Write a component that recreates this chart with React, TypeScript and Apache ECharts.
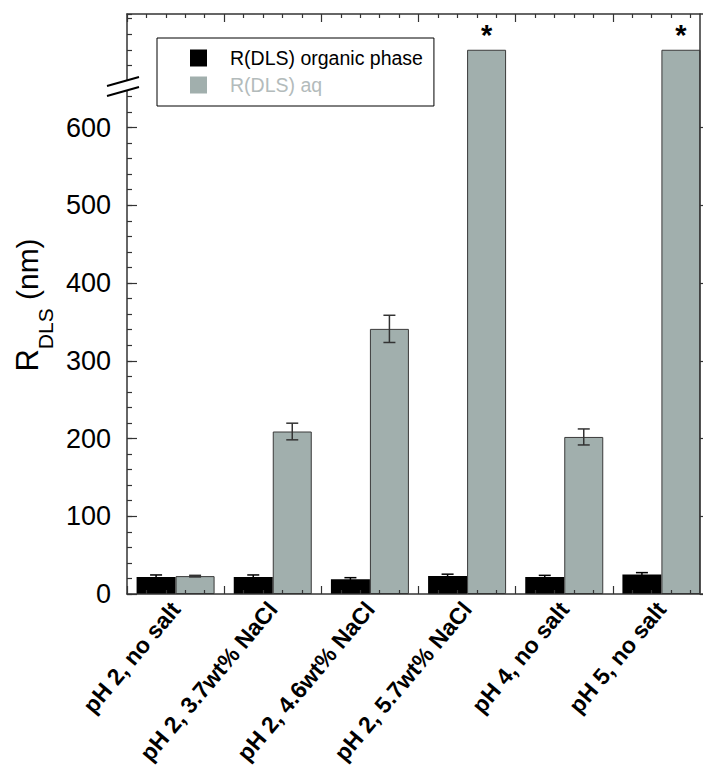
import React, { useEffect, useRef } from 'react';
import * as echarts from 'echarts';

const categories = [
  'pH 2, no salt',
  'pH 2, 3.7wt% NaCl',
  'pH 2, 4.6wt% NaCl',
  'pH 2, 5.7wt% NaCl',
  'pH 4, no salt',
  'pH 5, no salt',
];
const seriesNames = ['R(DLS) organic phase', 'R(DLS) aq'];
const organicValues = [22, 22, 19, 23, 22, 25];
const organicErrors = [2.5, 2.5, 2, 2.5, 2, 2.5];
const aqValues = [23, 209, 341, 700, 202, 700];
const aqErrors = [1, 10.7, 17.5, 0, 10.3, 0];
const offScale = [false, false, false, true, false, true];
const yTickLabels = [0, 100, 200, 300, 400, 500, 600];

const FONT = 'Liberation Sans, Arial, sans-serif';
const AXIS_COLOR = '#333';
const GREY = '#a1afad';
const BAR_W = 39;

export default function App() {
  const ref = useRef<HTMLDivElement>(null);
  useEffect(() => {
    if (!ref.current) return;
    const chart = echarts.init(ref.current, null, { renderer: 'svg' });

    const errSeries = (name: string, values: number[], errors: number[], off: number, color: string) => ({
      type: 'custom',
      name: name + ' err',
      xAxisIndex: 0,
      yAxisIndex: 0,
      z: 4,
      silent: true,
      data: values.map((v, i) => [i, v, errors[i]]),
      renderItem: (params: any, api: any) => {
        const x = api.value(0);
        const v = api.value(1);
        const e = api.value(2);
        if (!e) return { type: 'group', children: [] };
        const top = api.coord([x, v + e]);
        const bot = api.coord([x, v - e]);
        const cx = top[0] + off;
        const h = 6;
        const st = { stroke: color, lineWidth: 1.5 };
        return {
          type: 'group',
          children: [
            { type: 'line', shape: { x1: cx, y1: top[1], x2: cx, y2: bot[1] }, style: st },
            { type: 'line', shape: { x1: cx - h, y1: top[1], x2: cx + h, y2: top[1] }, style: st },
            { type: 'line', shape: { x1: cx - h, y1: bot[1], x2: cx + h, y2: bot[1] }, style: st },
          ],
        };
      },
    });

    const tickAxisX = (position: 'top' | 'bottom') => ({
      type: 'value',
      position,
      min: 0,
      max: categories.length,
      interval: 1,
      z: 6,
      axisLine: { show: true, onZero: false, lineStyle: { color: AXIS_COLOR, width: 1.5 } },
      axisTick: { show: true, inside: true, length: 8, lineStyle: { color: AXIS_COLOR, width: 1.2 } },
      minorTick: { show: true, splitNumber: 5, length: 4, lineStyle: { color: AXIS_COLOR, width: 1.2 } },
      axisLabel: { show: false },
      splitLine: { show: false },
      minorSplitLine: { show: false },
    });

    const option: any = {
      animation: false,
      backgroundColor: '#fff',
      grid: { left: 127, top: 14, right: -7, bottom: 180, containLabel: false, outerBoundsMode: 'none' },
      legend: {
        orient: 'vertical',
        left: 157,
        top: 38,
        itemWidth: 17,
        itemHeight: 17,
        itemGap: 7,
        padding: [10, 11, 11, 33],
        borderColor: '#000',
        borderWidth: 1,
        icon: 'rect',
        selectedMode: false,
        itemStyle: { borderWidth: 0 },
        data: seriesNames,
        formatter: (name: string) => (name === seriesNames[0] ? `{a|${name}}` : `{b|${name}}`),
        textStyle: {
          fontFamily: FONT,
          fontSize: 19.5,
          rich: {
            a: { color: '#000', fontSize: 19.5, fontFamily: FONT, padding: [0, 0, 0, 18] },
            b: { color: '#b3bbbb', fontSize: 19.5, fontFamily: FONT, padding: [0, 0, 0, 18] },
          },
        },
      },
      xAxis: [
        {
          type: 'category',
          position: 'bottom',
          data: categories,
          boundaryGap: true,
          axisLine: { show: false },
          axisTick: { show: false },
          splitLine: { show: false },
          axisLabel: {
            rotate: 50,
            margin: 11,
            interval: 0,
            fontFamily: FONT,
            fontWeight: 'bold',
            fontSize: 23,
            color: '#000',
          },
        },
        tickAxisX('bottom'),
        tickAxisX('top'),
      ],
      yAxis: [
        {
          type: 'value',
          position: 'left',
          min: 0,
          max: 746,
          interval: 100,
          z: 6,
          axisLine: { show: true, onZero: false, lineStyle: { color: AXIS_COLOR, width: 1.5 } },
          axisTick: { show: true, inside: true, length: 10, customValues: yTickLabels, lineStyle: { color: AXIS_COLOR, width: 1.2 } },
          axisLabel: {
            customValues: yTickLabels,
            formatter: (v: number) => (v <= 600 ? String(v) : ''),
            fontFamily: FONT,
            fontSize: 27,
            color: '#000',
            margin: 16,
          },
          splitLine: { show: false },
        },
        {
          type: 'value',
          position: 'left',
          min: 0,
          max: 746,
          interval: 20,
          z: 6,
          axisLine: { show: false },
          axisTick: { show: true, inside: true, length: 5, lineStyle: { color: AXIS_COLOR, width: 1.2 } },
          axisLabel: { show: false },
          splitLine: { show: false },
        },
        {
          type: 'value',
          position: 'right',
          offset: -10,
          min: 0,
          max: 746,
          interval: 100,
          z: 6,
          axisLine: { show: true, onZero: false, lineStyle: { color: AXIS_COLOR, width: 1.5 } },
          axisTick: { show: true, inside: false, length: 5, customValues: yTickLabels, lineStyle: { color: AXIS_COLOR, width: 1.2 } },
          axisLabel: { show: false },
          splitLine: { show: false },
        },
      ],
      series: [
        {
          type: 'bar',
          name: seriesNames[0],
          xAxisIndex: 0,
          yAxisIndex: 0,
          barWidth: BAR_W,
          barGap: '0%',
          itemStyle: { color: '#000' },
          data: organicValues,
        },
        {
          type: 'bar',
          name: seriesNames[1],
          xAxisIndex: 0,
          yAxisIndex: 0,
          barWidth: BAR_W,
          barGap: '0%',
          itemStyle: { color: GREY, borderColor: '#3a3a3a', borderWidth: 1 },
          data: aqValues.map((v, i) =>
            offScale[i]
              ? {
                  value: v,
                  label: {
                    show: true,
                    position: 'top',
                    distance: 0,
                    formatter: '*',
                    fontFamily: FONT,
                    fontSize: 29,
                    fontWeight: 'bold',
                    color: '#000',
                  },
                }
              : v
          ),
        },
        errSeries(seriesNames[0], organicValues, organicErrors, -BAR_W / 2, '#000'),
        errSeries(seriesNames[1], aqValues, aqErrors, BAR_W / 2, '#333'),
      ],
      graphic: [
        {
          type: 'polygon',
          z: 100,
          shape: { points: [[107, 86], [139, 77], [139, 87], [107, 96]] },
          style: { fill: '#fff' },
        },
        { type: 'line', z: 101, shape: { x1: 107, y1: 86, x2: 139, y2: 77 }, style: { stroke: '#000', lineWidth: 2 } },
        { type: 'line', z: 101, shape: { x1: 107, y1: 96, x2: 139, y2: 87 }, style: { stroke: '#000', lineWidth: 2 } },
        {
          type: 'text',
          z: 101,
          x: 12,
          y: 305,
          rotation: Math.PI / 2,
          style: {
            text: '{r|R}{s|DLS}{n| (nm)}',
            align: 'center',
            verticalAlign: 'top',
            fontFamily: FONT,
            rich: {
              r: { fontFamily: FONT, fontSize: 31, lineHeight: 31, verticalAlign: 'top', fill: '#000' },
              s: { fontFamily: FONT, fontSize: 21, lineHeight: 44, verticalAlign: 'bottom', fill: '#000' },
              n: { fontFamily: FONT, fontSize: 30, lineHeight: 30, verticalAlign: 'top', fill: '#000' },
            },
          },
        },
      ],
    };
    chart.setOption(option);
    return () => chart.dispose();
  }, []);
  return <div ref={ref} style={{ position: 'absolute', left: 0, top: 0, width: 703, height: 774 }} />;
}
